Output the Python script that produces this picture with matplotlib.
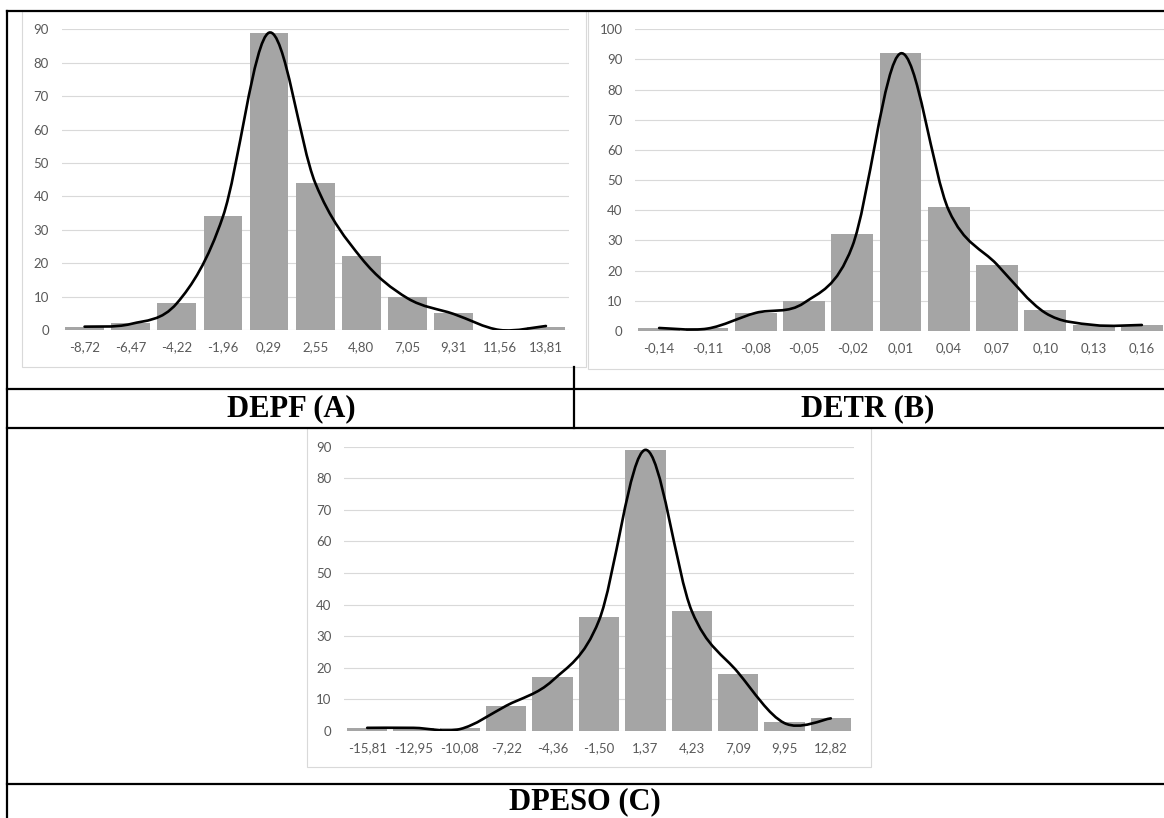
import matplotlib
matplotlib.use("Agg")
import matplotlib.pyplot as plt
from matplotlib.path import Path
from matplotlib.patches import PathPatch, Rectangle
from matplotlib.lines import Line2D

W, H = 1164, 818

# valores
depf_labels = ["-8,72", "-6,47", "-4,22", "-1,96", "0,29", "2,55", "4,80", "7,05", "9,31", "11,56", "13,81"]
depf_freq = [1, 2, 8, 34, 89, 44, 22, 10, 5, 0, 1]
depf_curve = [1, 1.8, 8, 34, 89, 44, 21.5, 9.5, 4.8, 0, 1.2]

detr_labels = ["-0,14", "-0,11", "-0,08", "-0,05", "-0,02", "0,01", "0,04", "0,07", "0,10", "0,13", "0,16"]
detr_freq = [1, 1, 6, 10, 32, 92, 41, 22, 7, 2, 2]
detr_curve = [1, 0.8, 6, 9.3, 28, 92, 40, 22, 6, 2, 2]

dpeso_labels = ["-15,81", "-12,95", "-10,08", "-7,22", "-4,36", "-1,50", "1,37", "4,23", "7,09", "9,95", "12,82"]
dpeso_freq = [1, 1, 1, 8, 17, 36, 89, 38, 18, 3, 4]
dpeso_curve = [1, 1, 0.6, 8, 16, 35, 89, 38, 18.5, 2.5, 4]

titles = ["DEPF (A)", "DETR (B)", "DPESO (C)"]

BAR = "#a5a5a5"
GRID = "#d9d9d9"
TXT = "#595959"
TICKFONT = "Lato"


def fx(x):
    return x / W


def fy(y):
    return 1 - y / H


def smooth_path(ys):
    # linha suavizada estilo Excel (bezier pelos pontos)
    pts = [(i, v) for i, v in enumerate(ys)]
    n = len(pts)
    verts = [pts[0]]
    codes = [Path.MOVETO]
    for i in range(n - 1):
        p0 = pts[i - 1] if i > 0 else pts[i]
        p1 = pts[i]
        p2 = pts[i + 1]
        p3 = pts[i + 2] if i + 2 < n else pts[i + 1]
        c1 = (p1[0] + (p2[0] - p0[0]) / 6, p1[1] + (p2[1] - p0[1]) / 6)
        c2 = (p2[0] - (p3[0] - p1[0]) / 6, p2[1] - (p3[1] - p1[1]) / 6)
        verts += [c1, c2, p2]
        codes += [Path.CURVE4] * 3
    return Path(verts, codes)


def histo(box, labels, freq, curve, ymax, width):
    l, r, top, bottom = box
    ax = fig.add_axes([fx(l), fy(bottom), fx(r - l), (bottom - top) / H])
    ax.set_zorder(3)
    ax.patch.set_alpha(0)
    x = list(range(len(labels)))
    ax.bar(x, freq, width=width, color=BAR, zorder=2)
    ax.add_patch(PathPatch(smooth_path(curve), fill=False, edgecolor="black",
                           lw=1.9, zorder=3, capstyle="round"))
    ax.set_xlim(-0.5, len(labels) - 0.5)
    ax.set_ylim(0, ymax)
    ax.set_yticks(range(0, ymax + 1, 10))
    ax.set_xticks(x)
    ax.set_xticklabels(labels)
    ax.yaxis.grid(True, color=GRID, lw=0.8)
    ax.set_axisbelow(True)
    for s in ax.spines.values():
        s.set_visible(False)
    ax.tick_params(axis="both", length=0, labelsize=9.5, labelcolor=TXT)
    ax.tick_params(axis="y", pad=9)
    ax.tick_params(axis="x", pad=8)
    for t in ax.get_xticklabels() + ax.get_yticklabels():
        t.set_fontfamily(TICKFONT)
    return ax


fig = plt.figure(figsize=(W / 100, H / 100), dpi=100)
fig.patch.set_facecolor("white")

# molduras dos gráficos
for l, t, r, b in [(22, 11, 586, 367), (588, 11, 1172, 369), (307, 428, 871, 767)]:
    fig.add_artist(Rectangle((fx(l), fy(b)), fx(r - l), (b - t) / H,
                             facecolor="white", edgecolor=GRID, lw=0.8, zorder=2))

histo((61.5, 569, 29.3, 330), depf_labels, depf_freq, depf_curve, 90, 0.84)
histo((635, 1166, 29.3, 331), detr_labels, detr_freq, detr_curve, 100, 0.87)
histo((344, 854, 446.7, 731), dpeso_labels, dpeso_freq, dpeso_curve, 90, 0.87)

# linhas da tabela
segs = [((7, 11), (1164, 11)), ((7, 11), (7, 818)), ((7, 389), (1164, 389)),
        ((7, 428), (1164, 428)), ((7, 784), (1164, 784)), ((574, 367), (574, 428))]
for (x0, y0), (x1, y1) in segs:
    fig.add_artist(Line2D([fx(x0), fx(x1)], [fy(y0), fy(y1)], color="black",
                          lw=1.6, zorder=5, solid_capstyle="projecting"))

for txt, (x, y) in zip(titles, [(291, 409), (868, 409), (585, 802)]):
    fig.text(fx(x), fy(y), txt, ha="center", va="center", fontsize=22,
             fontweight="bold", family="Liberation Serif", zorder=6)

fig.savefig("out.png", dpi=100)
